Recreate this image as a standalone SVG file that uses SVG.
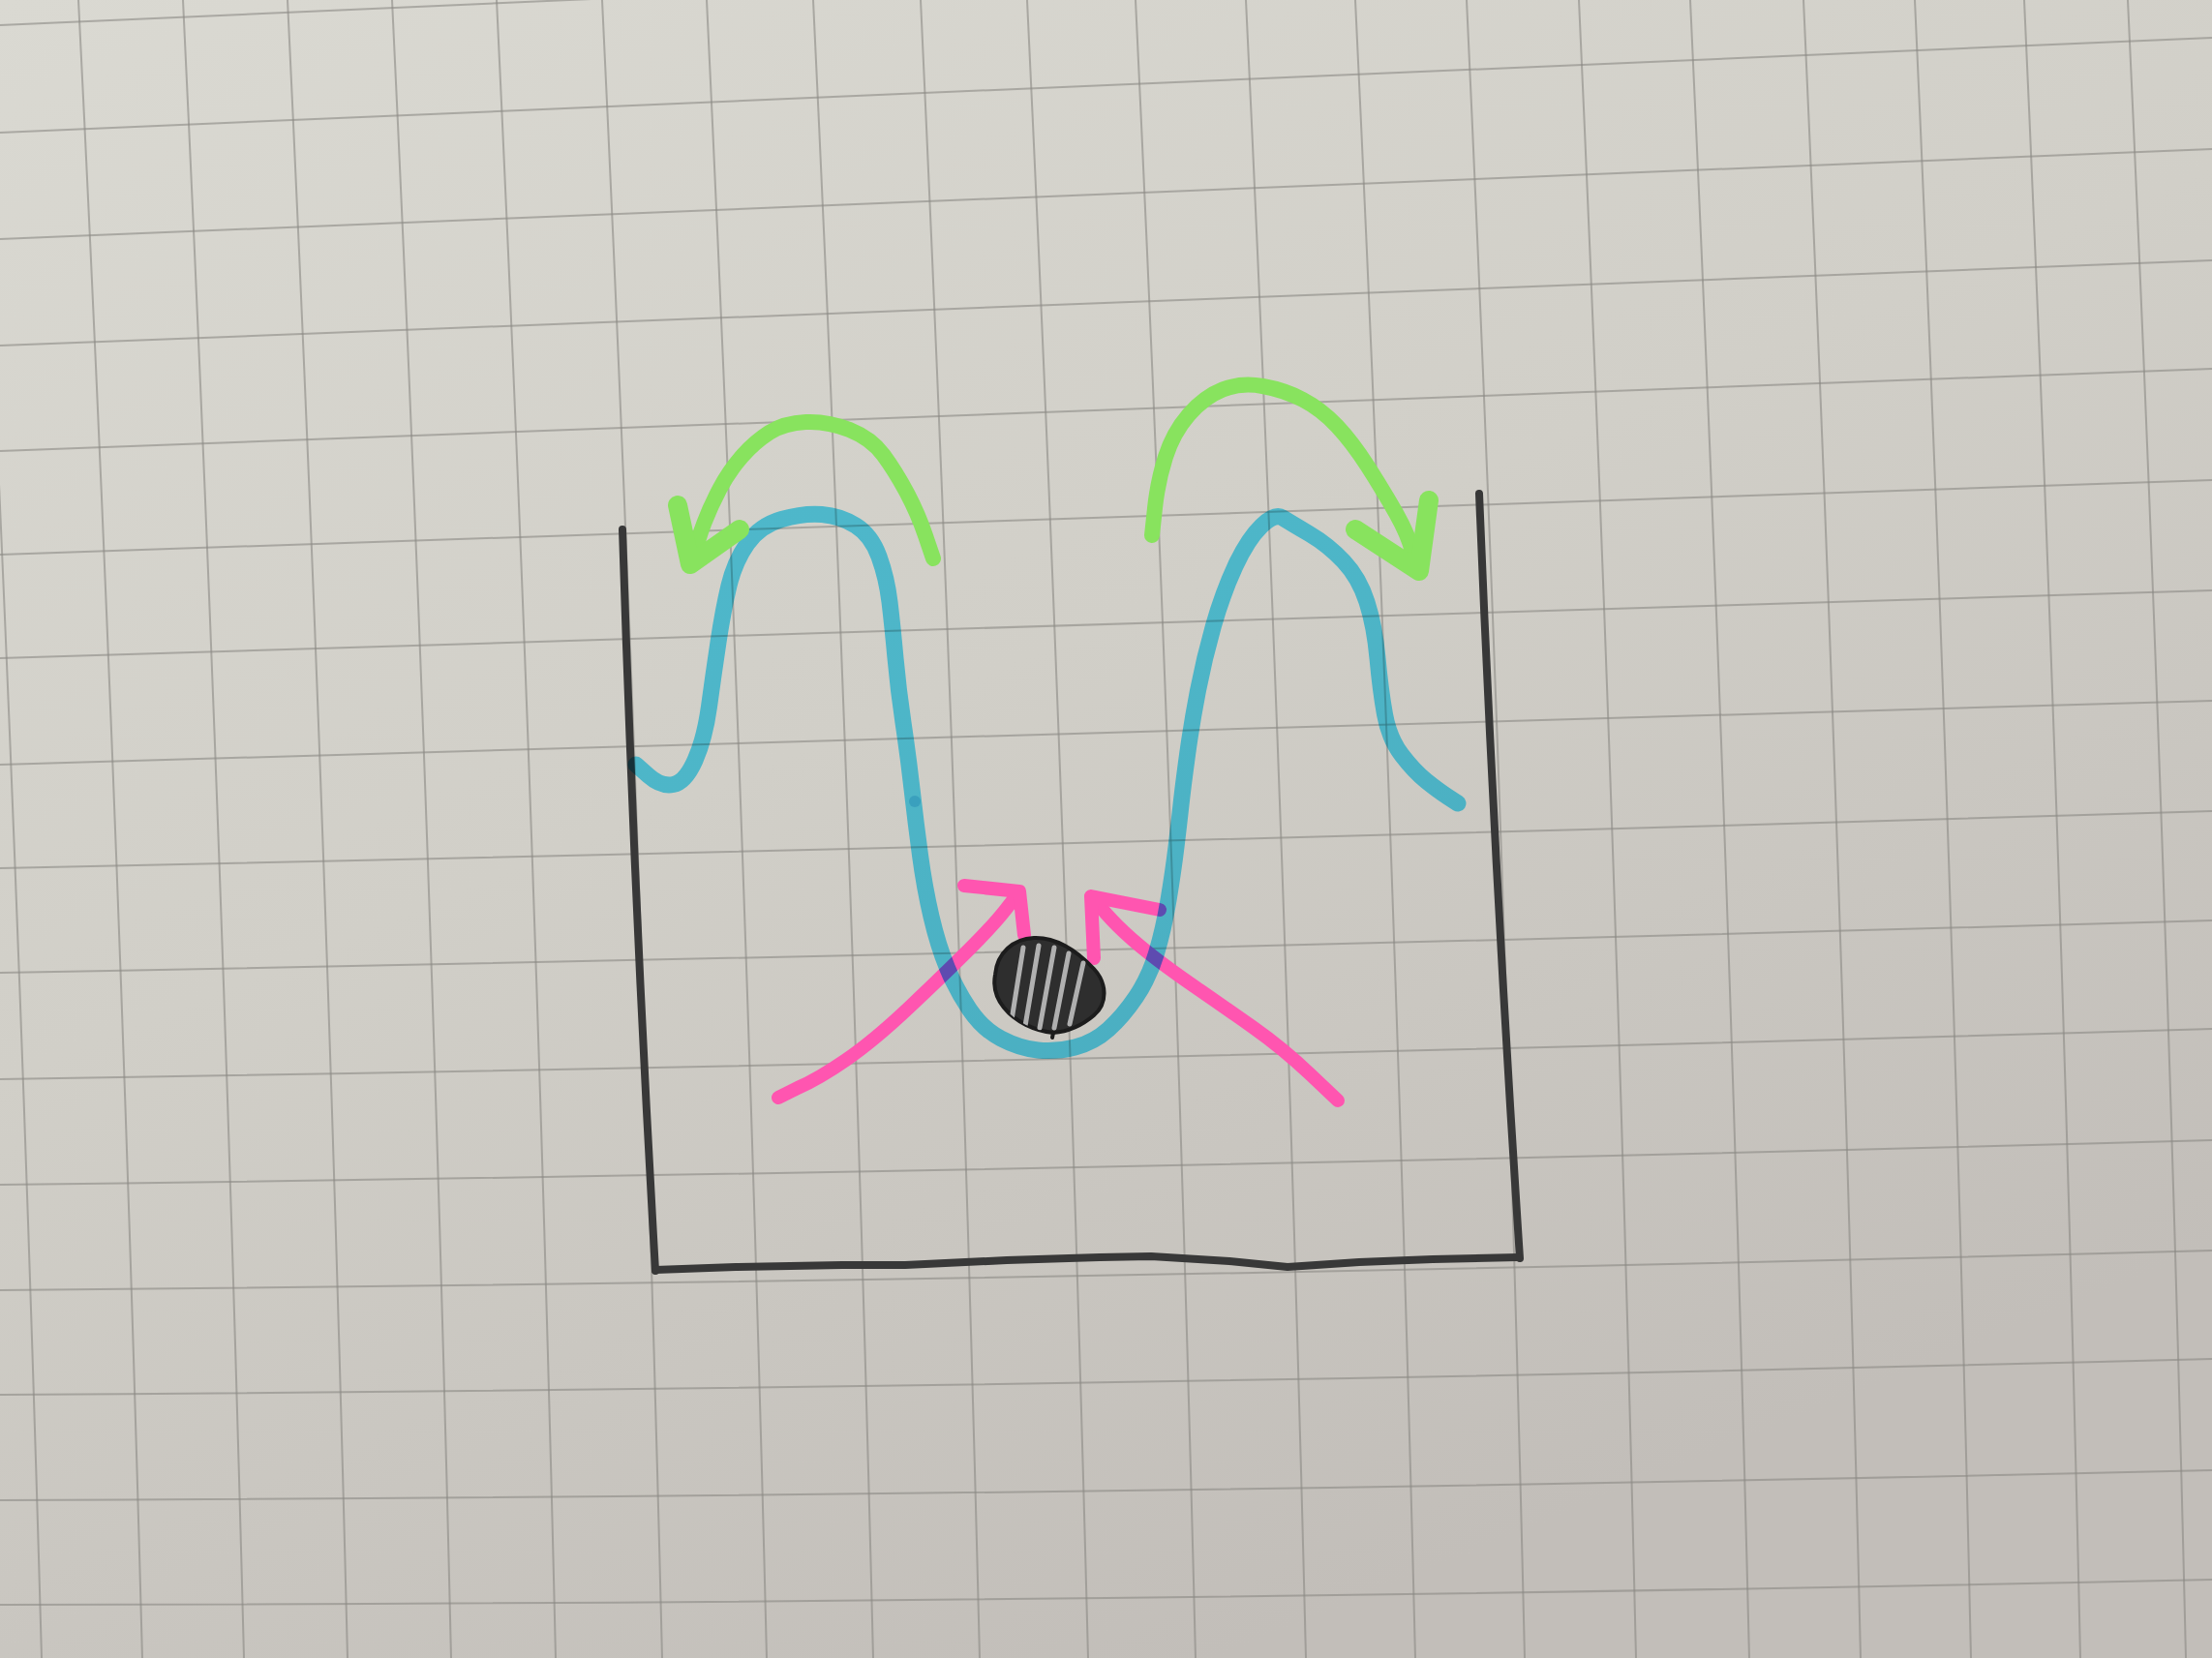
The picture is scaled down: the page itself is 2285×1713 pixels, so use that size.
<svg xmlns="http://www.w3.org/2000/svg" width="2285" height="1713" viewBox="0 0 2285 1713">
<defs>
<linearGradient id="paper" x1="0" y1="0" x2="0.55" y2="1">
<stop offset="0" stop-color="#dad9d2"/>
<stop offset="0.5" stop-color="#d1cfc8"/>
<stop offset="1" stop-color="#c2beb9"/>
</linearGradient>
<clipPath id="blobclip">
<path d="M1028,1007 C1030,984 1047,970 1068,969 C1093,968 1114,984 1130,1001 C1143,1015 1145,1036 1130,1049 C1116,1061 1101,1066 1088,1067 C1069,1065 1049,1056 1037,1041 C1028,1030 1026,1018 1028,1007 Z"/>
</clipPath>
<style>
.grid path{fill:none;stroke:#8a8984;stroke-width:2;opacity:0.6}
.pencil{fill:none;stroke:#383838;stroke-width:8;stroke-linecap:round;stroke-linejoin:round}
.blue{fill:none;stroke:#5ee0ff;stroke-width:17;stroke-linecap:round;stroke-linejoin:round;mix-blend-mode:multiply}
.green{fill:none;stroke:#88e35e;stroke-width:16;stroke-linecap:round;stroke-linejoin:round}
.head{stroke-width:20}
.pink{fill:none;stroke:#ff55b0;stroke-width:14;stroke-linecap:round;stroke-linejoin:round}
.hatch line{stroke:#b0b0b0;stroke-width:5;stroke-linecap:round}
</style>
</defs>
<rect width="2285" height="1713" fill="url(#paper)"/>
<g id="grid" class="grid">
<path d="M-25,0 Q19,856 43,1713"/>
<path d="M81,0 Q124,856 147,1713"/>
<path d="M189,0 Q230,856 252,1713"/>
<path d="M297,0 Q338,856 359,1713"/>
<path d="M405,0 Q446,856 466,1713"/>
<path d="M513,0 Q554,856 574,1713"/>
<path d="M622,0 Q663,856 684,1713"/>
<path d="M730,0 Q771,856 792,1713"/>
<path d="M840,0 Q881,856 902,1713"/>
<path d="M951,0 Q991,856 1012,1713"/>
<path d="M1061,0 Q1102,856 1124,1713"/>
<path d="M1173,0 Q1214,856 1235,1713"/>
<path d="M1287,0 Q1328,856 1349,1713"/>
<path d="M1400,0 Q1441,856 1462,1713"/>
<path d="M1515,0 Q1555,856 1575,1713"/>
<path d="M1631,0 Q1670,856 1690,1713"/>
<path d="M1746,0 Q1786,856 1807,1713"/>
<path d="M1863,0 Q1902,856 1922,1713"/>
<path d="M1978,0 Q2017,856 2036,1713"/>
<path d="M2091,0 Q2130,856 2149,1713"/>
<path d="M2198,0 Q2238,856 2258,1713"/>
<path d="M0,26 Q1142,-24 2285,-75"/>
<path d="M0,137 Q1142,89 2285,39"/>
<path d="M0,247 Q1142,202 2285,154"/>
<path d="M0,357 Q1142,315 2285,269"/>
<path d="M0,466 Q1142,427 2285,381"/>
<path d="M0,573 Q1142,538 2285,496"/>
<path d="M0,680 Q1142,649 2285,610"/>
<path d="M0,790 Q1142,761 2285,724"/>
<path d="M0,897 Q1142,873 2285,838"/>
<path d="M0,1005 Q1142,984 2285,951"/>
<path d="M0,1115 Q1142,1097 2285,1063"/>
<path d="M0,1224 Q1142,1210 2285,1178"/>
<path d="M0,1333 Q1142,1323 2285,1292"/>
<path d="M0,1441 Q1142,1434 2285,1404"/>
<path d="M0,1550 Q1142,1546 2285,1519"/>
<path d="M0,1658 Q1142,1657 2285,1632"/>
</g>
<g id="container">
<path class="pencil" d="M643,547 Q655,930 677,1313"/>
<path class="pencil" d="M1528,510 Q1544,905 1570,1300"/>
<path class="pencil" stroke-width="10" d="M677,1312 L760,1309 L870,1307 L935,1307 L1040,1302 L1136,1299 L1189,1298 L1270,1303 L1330,1309 L1404,1304 L1480,1301 L1568,1299"/>
</g>
<g id="potential-curve">
<path class="pink" d="M804,1134 L824,1124 Q845,1115 874,1095 Q903,1075 939.5,1040.5 Q976,1006 1001.5,980.5 Q1027,955 1039,939.5 L1051,924"/>
<path class="pink" d="M996,915 L1053,921 L1058,966"/>
<path class="pink" d="M1382,1137 L1353.5,1110 Q1325,1083 1294.5,1061.5 Q1264,1040 1235,1020 Q1206,1000 1187,985 Q1168,970 1154.5,956.5 Q1141,943 1135.5,935 L1130,927"/>
<path class="pink" d="M1130,990 L1127,926 L1198,940"/>
<path class="blue" d="M657,790 L670,801.5 Q683,813 695.5,810.5 Q708,808 718,785.5 Q728,763 732.5,730 Q737,697 742,663.5 Q747,630 753,605 Q759,580 772,561.5 Q785,543 807.5,536.5 Q830,530 849,531.5 Q868,533 884,543 Q900,553 908,575 Q916,597 919,622 Q922,647 925,680 Q928,713 933,746.5 Q938,780 942,815 Q946,850 950.5,883.5 Q955,917 962,947 Q969,977 978.5,1000 Q988,1023 1001.5,1043 Q1015,1063 1034,1073 Q1053,1083 1072,1085 Q1091,1087 1110.5,1082 Q1130,1077 1145,1063.5 Q1160,1050 1173.5,1030 Q1187,1010 1194.5,985 Q1202,960 1207,930 Q1212,900 1215,875 Q1218,850 1220,831.5 Q1222,813 1226.5,780 Q1231,747 1237.5,713.5 Q1244,680 1253.5,646.5 Q1263,613 1276,585 Q1289,557 1303,543.5 Q1317,530 1325,535 Q1333,540 1352.5,551.5 Q1372,563 1388,580 Q1404,597 1412,622 Q1420,647 1423,680 Q1426,713 1430.5,738 Q1435,763 1448,780 Q1461,797 1473.5,807 Q1486,817 1496,823.5 L1506,830"/>
<circle cx="945" cy="828" r="6" fill="#2f93b8" opacity="0.6"/>
<path class="green" d="M964,577 L956,553.5 Q948,530 936.5,508.5 Q925,487 912.5,470 Q900,453 877.5,444 Q855,435 832.5,436 Q810,437 794.5,447 Q779,457 766,472 Q753,487 743.5,505 Q734,523 727.5,540 Q721,557 718.5,570 L716,583"/>
<path class="green head" d="M700,522 L713,583 L764,547"/>
<path class="green" d="M1190,553 L1193,525 Q1196,497 1204,472 Q1212,447 1228,428.5 Q1244,410 1263,402.5 Q1282,395 1304.5,399 Q1327,403 1346,413 Q1365,423 1381,440 Q1397,457 1413,482 Q1429,507 1442,530 Q1455,553 1459.5,571.5 L1464,590"/>
<path class="green head" d="M1476,517 L1466,590 L1400,547"/>
</g>
<g id="ball">
<path d="M1028,1007 C1030,984 1047,970 1068,969 C1093,968 1114,984 1130,1001 C1143,1015 1145,1036 1130,1049 C1116,1061 1101,1066 1088,1067 C1069,1065 1049,1056 1037,1041 C1028,1030 1026,1018 1028,1007 Z" fill="#2e2e2e" stroke="#1c1c1c" stroke-width="4"/>
<g class="hatch" clip-path="url(#blobclip)">
<line x1="1057" y1="979" x2="1045" y2="1054"/>
<line x1="1073" y1="977" x2="1059" y2="1060"/>
<line x1="1089" y1="979" x2="1074" y2="1062"/>
<line x1="1104" y1="985" x2="1089" y2="1062"/>
<line x1="1119" y1="995" x2="1105" y2="1058"/>
</g>
<path d="M1088,1067 L1087,1072" stroke="#1c1c1c" stroke-width="4" stroke-linecap="round"/>
</g>
</svg>
